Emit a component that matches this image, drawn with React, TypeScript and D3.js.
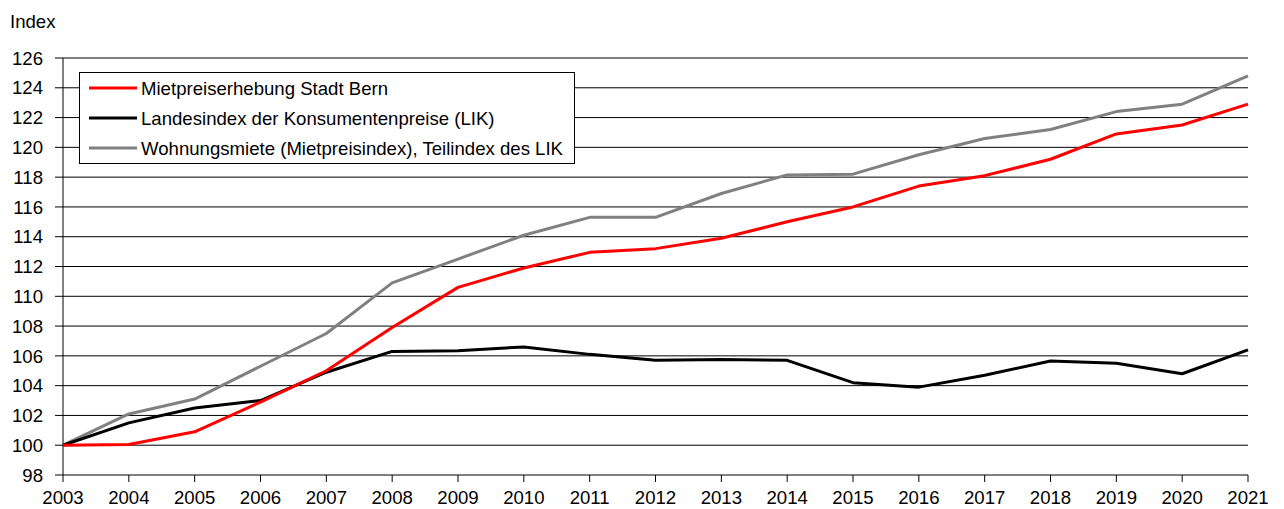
import React from "react";
import * as d3 from "d3";

const years = [2003, 2004, 2005, 2006, 2007, 2008, 2009, 2010, 2011, 2012, 2013, 2014, 2015, 2016, 2017, 2018, 2019, 2020, 2021];
const bern = [100, 100.05, 100.9, 102.9, 105.0, 107.9, 110.6, 111.9, 112.95, 113.2, 113.9, 115.0, 116.0, 117.4, 118.1, 119.2, 120.9, 121.5, 122.9];
const lik = [100, 101.5, 102.5, 103.0, 104.9, 106.3, 106.35, 106.6, 106.1, 105.7, 105.75, 105.7, 104.2, 103.9, 104.7, 105.65, 105.5, 104.8, 106.4];
const miete = [100, 102.1, 103.1, 105.3, 107.5, 110.9, 112.5, 114.1, 115.3, 115.3, 116.9, 118.15, 118.2, 119.5, 120.6, 121.2, 122.4, 122.9, 124.8];
const yTicks = [98, 100, 102, 104, 106, 108, 110, 112, 114, 116, 118, 120, 122, 124, 126];
const seriesNames = [
  "Mietpreiserhebung Stadt Bern",
  "Landesindex der Konsumentenpreise (LIK)",
  "Wohnungsmiete (Mietpreisindex), Teilindex des LIK",
];
const colors = ["#ff0000", "#000000", "#808080"];

export default function App() {
  const W = 1284, H = 509;
  const x = d3.scaleLinear().domain([2003, 2021]).range([63, 1248]);
  const y = d3.scaleLinear().domain([98, 126]).range([475, 58]);
  const font = "Arial, 'Liberation Sans', sans-serif";
  const fs = 18.6;
  const series = [bern, lik, miete];
  const line = d3.line<number>().x((_, i) => x(years[i])).y((v) => y(v));
  const order = [2, 1, 0];
  return (
    <svg width={W} height={H} style={{ position: "absolute", left: 0, top: 0, background: "#fff" }} fontFamily={font}>
      <text x={10} y={28} fontSize={fs}>Index</text>
      {yTicks.map((t) => (
        <g key={t}>
          {t > 98 && <line x1={63} x2={1248} y1={y(t)} y2={y(t)} stroke="#000" strokeWidth={1} />}
          <line x1={55} x2={63} y1={y(t)} y2={y(t)} stroke="#000" strokeWidth={1} />
          <text x={43} y={y(t)} dy="0.36em" textAnchor="end" fontSize={fs}>{t}</text>
        </g>
      ))}
      <line x1={63} x2={63} y1={58} y2={475} stroke="#000" strokeWidth={1} />
      <line x1={63} x2={1248} y1={475} y2={475} stroke="#000" strokeWidth={1} />
      {years.map((yr) => (
        <g key={yr}>
          <line x1={x(yr)} x2={x(yr)} y1={475} y2={482} stroke="#000" strokeWidth={1} />
          <text x={x(yr)} y={504} textAnchor="middle" fontSize={fs}>{yr}</text>
        </g>
      ))}
      {order.map((k) => (
        <path key={k} d={line(series[k]) || ""} fill="none" stroke={colors[k]} strokeWidth={3} strokeLinejoin="round" />
      ))}
      <rect x={79.5} y={72.5} width={495} height={91} fill="#fff" stroke="#000" strokeWidth={1} />
      {seriesNames.map((name, i) => (
        <g key={name}>
          <line x1={89} x2={137} y1={88 + i * 30} y2={88 + i * 30} stroke={colors[i]} strokeWidth={3} />
          <text x={141} y={88 + i * 30} dy="0.36em" fontSize={fs}>{name}</text>
        </g>
      ))}
    </svg>
  );
}
